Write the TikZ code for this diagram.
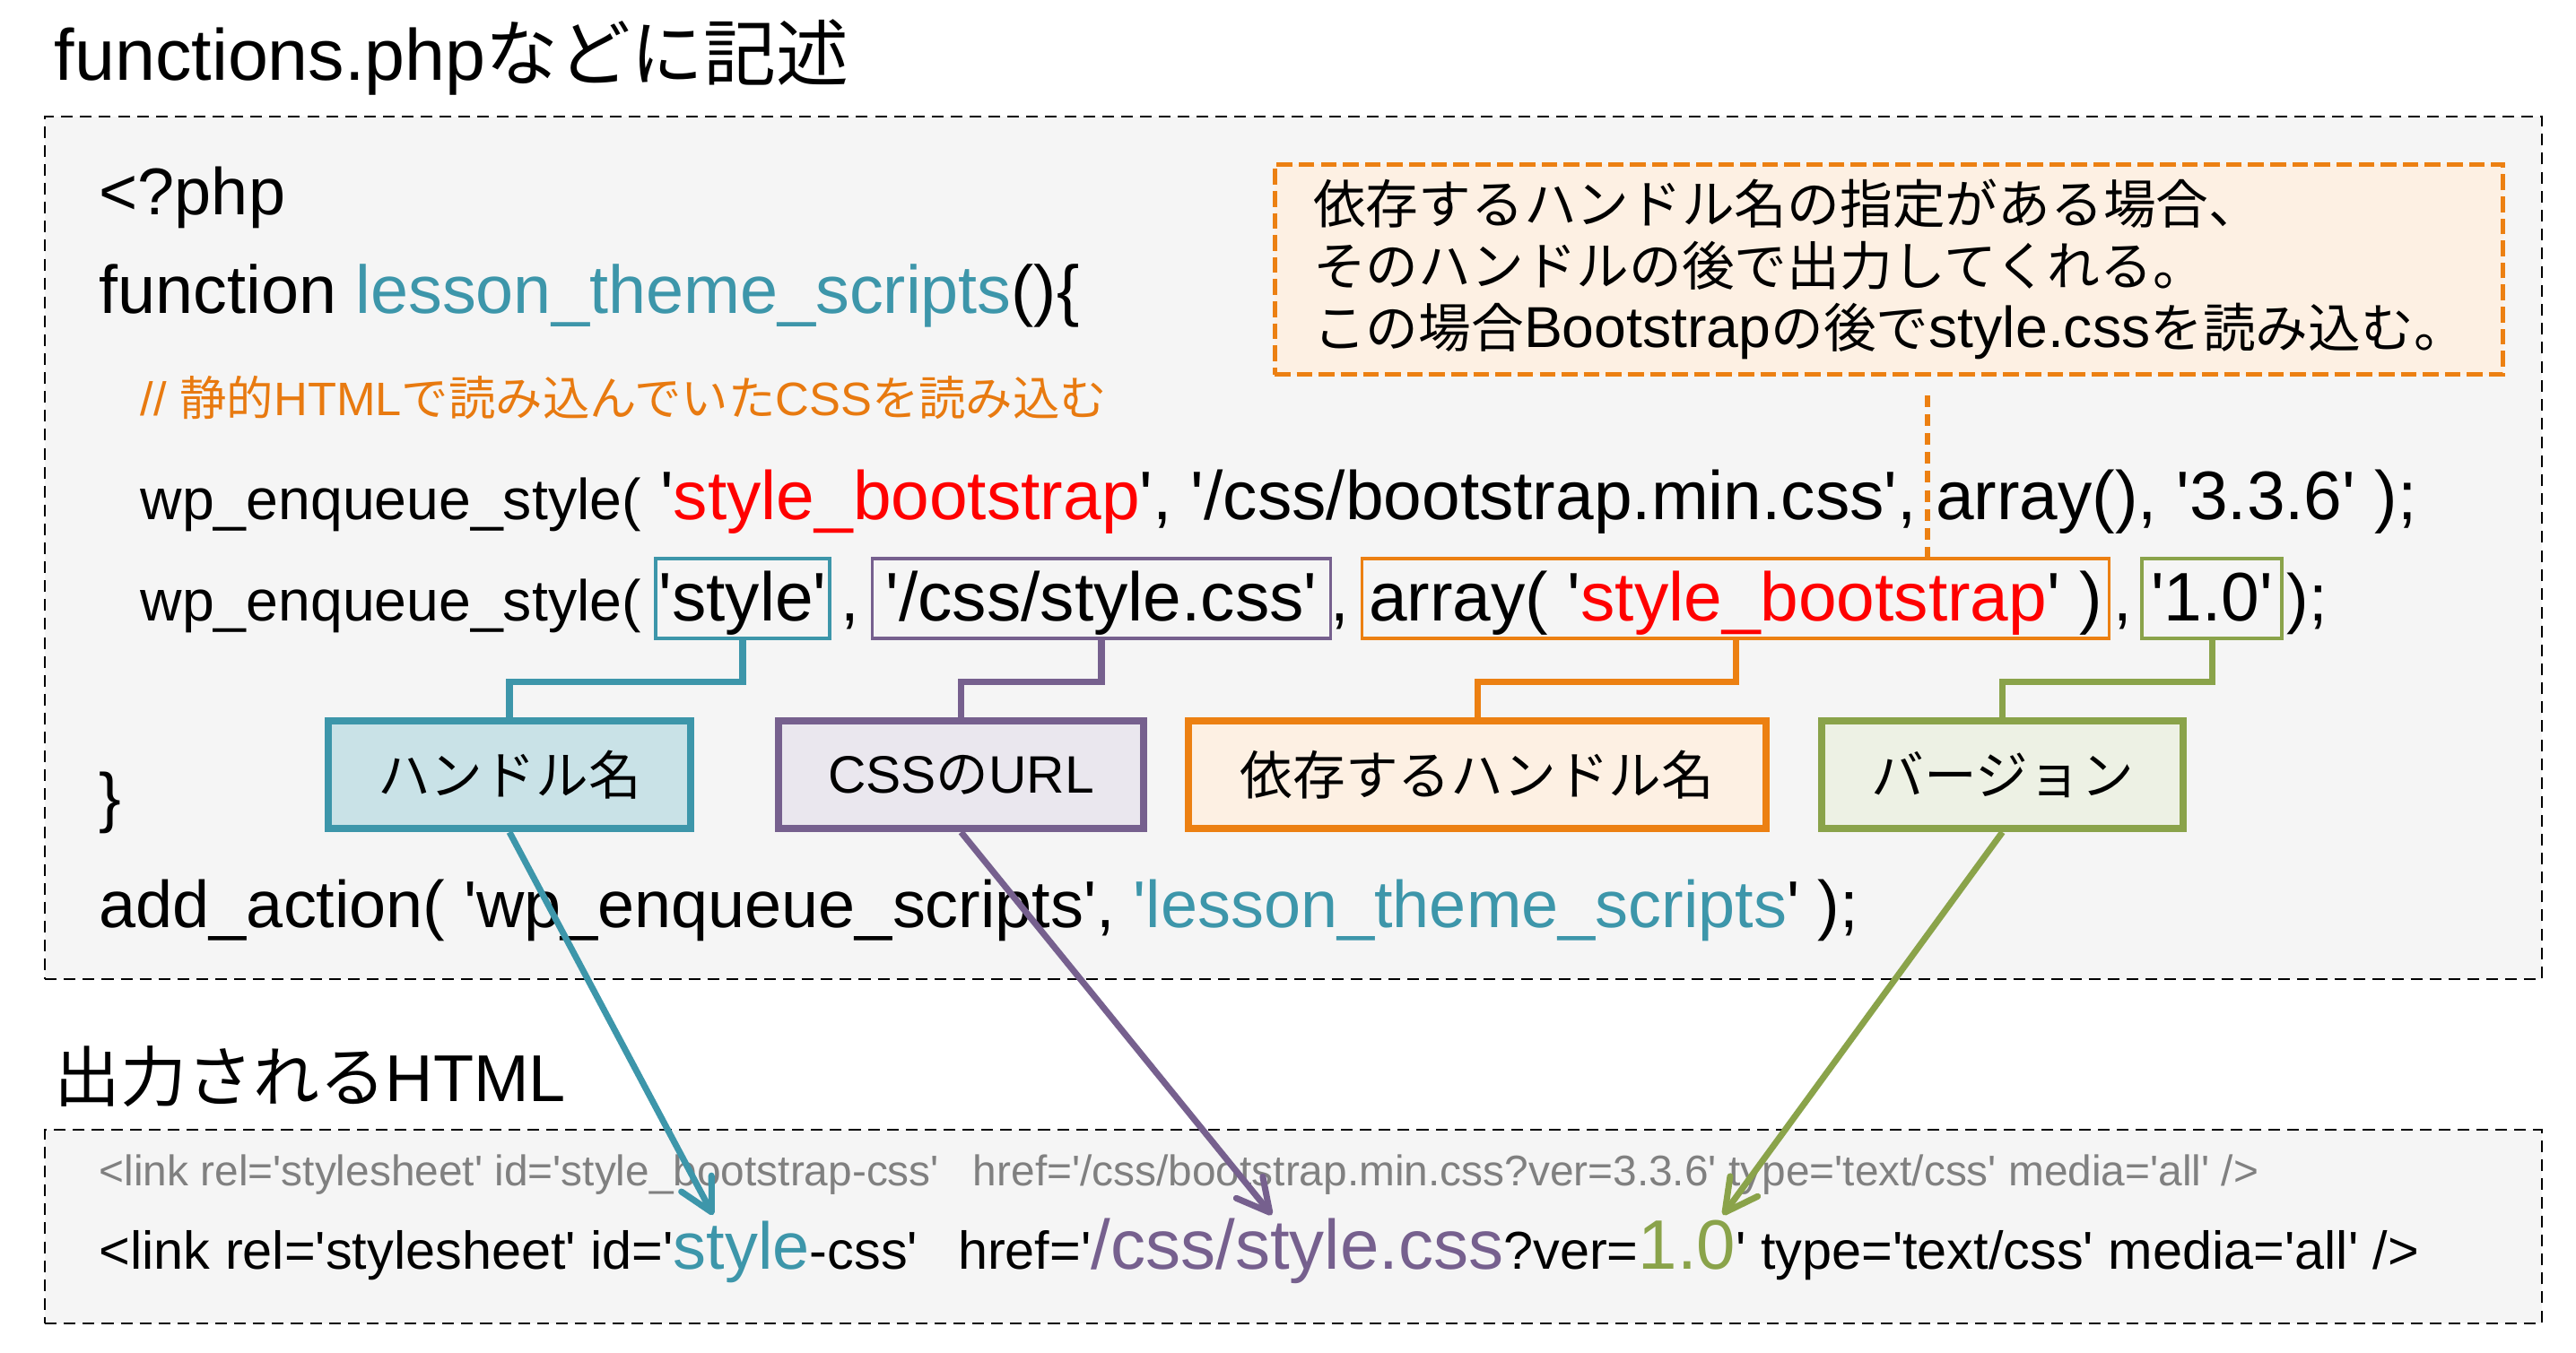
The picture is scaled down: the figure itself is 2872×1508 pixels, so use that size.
\documentclass[tikz,border=0pt]{standalone}
\usepackage{fontspec}
\setmainfont{Liberation Sans}[Ligatures=TeXOff]
\newfontfamily\jpfont{Noto Sans CJK JP}[Ligatures=TeXOff]
\usetikzlibrary{arrows.meta}
\definecolor{cTeal}{RGB}{61,150,170}
\definecolor{cPurple}{RGB}{118,96,142}
\definecolor{cOrange}{RGB}{236,128,18}
\definecolor{cGreen}{RGB}{138,163,74}
\definecolor{cRed}{RGB}{255,0,0}
\definecolor{cComment}{RGB}{232,122,16}
\definecolor{cGrey}{RGB}{128,128,128}
\definecolor{panelgrey}{RGB}{245,245,245}
\newcommand{\jp}[1]{{\jpfont #1}}
\newcommand{\lat}[1]{{\rmfamily\fontsize{18.3}{19.6}\selectfont #1}}
\newcommand{\enqsize}{\fontsize{18.3}{22}\selectfont}
\newcommand{\argsize}{\fontsize{21.8}{25}\selectfont}
\newcommand{\bigcode}{\fontsize{21}{25}\selectfont}
\tikzset{
  panel/.style={draw=black, line width=0.65pt, dash pattern=on 3.7pt off 2.3pt,
    fill=panelgrey, inner sep=0pt},
  heading/.style={font=\fontsize{23}{28}\selectfont, anchor=base west, inner sep=0pt},
  code/.style={font=\bigcode, anchor=base west, inner sep=0pt},
  hlbox/.style={draw=#1, line width=0.9pt, font=\argsize, anchor=base, inner sep=0pt,
    text height=0.69cm, text depth=0.2cm},
  tag/.style 2 args={draw=#1, fill=#1!#2, line width=2.3pt, minimum height=1.2cm,
    font=\jpfont\fontsize{16.7}{20}\selectfont},
  note/.style={draw=cOrange, fill=cOrange!12, line width=1.4pt, dash pattern=on 5pt off 2pt,
    font=\jpfont\fontsize{16.7}{19.6}\selectfont, align=left, text width=12.83cm,
    inner xsep=0.43cm, minimum height=2.34cm},
  lead/.style={draw=cOrange, line width=1.7pt, dash pattern=on 3.7pt off 2.3pt},
  elbow/.style={draw=#1, line width=2pt},
  callout/.style={draw=#1, line width=2pt, -{Straight Barb[length=3.6mm, width=3.8mm, round]}},
}
\begin{document}
\begin{tikzpicture}[x=0.01cm, y=-0.01cm]
  \useasboundingbox (0,0) rectangle (2872,1508);
  % functions.php panel
  \node[heading] (srcTitle) at (60,89) {functions.php\jp{などに記述}};
  \node[panel, minimum width=27.82cm, minimum height=9.62cm] (srcPanel) at (1442,611) {};
  \node[code] (phpOpen) at (110,239) {<?php};
  \node[code, font=\fontsize{21.5}{25}\selectfont] (funcHead) at (110,349) {function \textcolor{cTeal}{lesson\_theme\_scripts}()\{};
  \node[code, font=\fontsize{14.9}{19}\selectfont, text=cComment] (comment) at (156,463) {// \jp{静的}HTML\jp{で読み込んでいた}CSS\jp{を読み込む}};
  \node[code, font=\argsize] (enq1) at (156,579) {{\enqsize wp\_enqueue\_style(} '\textcolor{cRed}{style\_bootstrap}', '/css/bootstrap.min.css', array(), '3.3.6' );};
  \node[code] (enq2) at (156,692) {{\enqsize wp\_enqueue\_style(}};
  \node[hlbox=cTeal, minimum width=1.94cm] (argHandle) at (828,692) {'style'};
  \node[code] (comma1) at (937,692) {,};
  \node[hlbox=cPurple, minimum width=5.1cm] (argUrl) at (1228,692) {'/css/style.css'};
  \node[code] (comma2) at (1483,692) {,};
  \node[hlbox=cOrange, minimum width=8.32cm] (argDep) at (1935,692) {array( '\textcolor{cRed}{style\_bootstrap}' )};
  \node[code] (comma3) at (2356,692) {,};
  \node[hlbox=cGreen, minimum width=1.56cm] (argVer) at (2466,692) {'1.0'};
  \node[code] (enqEnd) at (2549,692) {);};
  \node[code] (funcEnd) at (110,914) {\}};
  \node[code] (addAction) at (110,1034) {add\_action( 'wp\_enqueue\_scripts', \textcolor{cTeal}{'lesson\_theme\_scripts}' );};
  % note
  \node[note] (note) at (2106,300.5) {依存するハンドル名の指定がある場合、\\そのハンドルの後で出力してくれる。\\この場合\lat{Bootstrap}の後で\lat{style.css}を読み込む。};
  \coordinate (noteFoot) at (2149,441);
  \draw[lead] (noteFoot) -- (noteFoot |- argDep.north);
  % tags
  \node[tag={cTeal}{28}, minimum width=4.04cm] (tagHandle) at (568,864) {ハンドル名};
  \node[tag={cPurple}{15}, minimum width=4.07cm] (tagUrl) at (1071.5,864) {\textrm{CSS}の\textrm{URL}};
  \node[tag={cOrange}{12}, minimum width=6.43cm] (tagDep) at (1647,864) {依存するハンドル名};
  \node[tag={cGreen}{15}, minimum width=4.03cm] (tagVer) at (2232.5,864) {バージョン};
  \coordinate (elbowY) at (0,760);
  \draw[elbow=cTeal] (argHandle.south) -- (argHandle.south |- elbowY) -| (tagHandle.north);
  \draw[elbow=cPurple] (argUrl.south) -- (argUrl.south |- elbowY) -| (tagUrl.north);
  \draw[elbow=cOrange] (argDep.south) -- (argDep.south |- elbowY) -| (tagDep.north);
  \draw[elbow=cGreen] (argVer.south) -- (argVer.south |- elbowY) -| (tagVer.north);
  % output HTML panel
  \node[heading, font=\fontsize{21}{26}\selectfont] (outTitle) at (60,1228) {\jp{出力される}HTML};
  \node[panel, minimum width=27.82cm, minimum height=2.16cm] (outPanel) at (1442,1368) {};
  \node[code, font=\fontsize{13.6}{16}\selectfont, text=cGrey] (outBoot) at (110,1322) {<link rel='stylesheet' id='style\_bootstrap-css'\hspace{0.38cm}href='/css/bootstrap.min.css?ver=3.3.6' type='text/css' media='all' />};
  \node[code, font=\fontsize{16.9}{20}\selectfont] (outStyle) at (110,1415) {<link rel='stylesheet' id='{\bigcode\textcolor{cTeal}{style}}-css'\hspace{0.45cm}href='{\fontsize{22.2}{26}\selectfont\textcolor{cPurple}{/css/style.css}}?ver={\fontsize{22.2}{26}\selectfont\textcolor{cGreen}{1.0}}' type='text/css' media='all' />};
  \coordinate (tipHandle) at (795,1355);
  \coordinate (tipUrl) at (1418,1355);
  \coordinate (tipVer) at (1921,1355);
  \draw[callout=cTeal] (tagHandle.south) -- (tipHandle);
  \draw[callout=cPurple] (tagUrl.south) -- (tipUrl);
  \draw[callout=cGreen] (tagVer.south) -- (tipVer);
\end{tikzpicture}
\end{document}
